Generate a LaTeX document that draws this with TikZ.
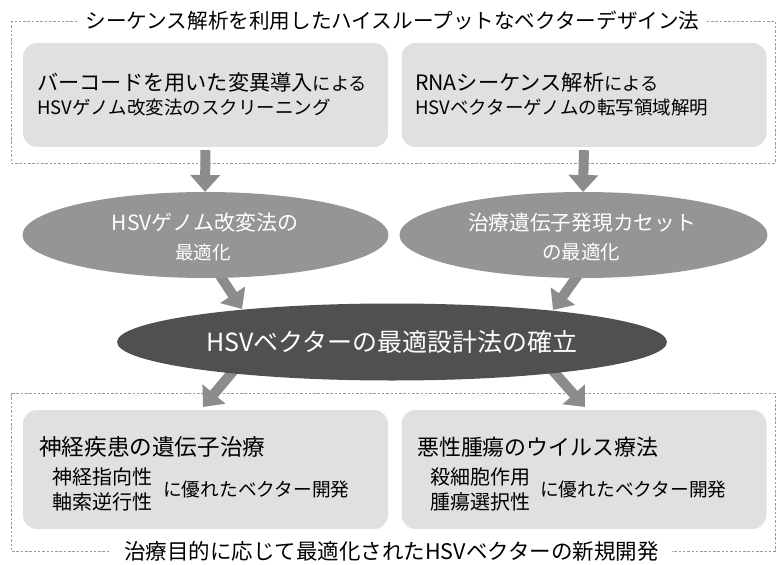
\documentclass[tikz,border=0pt]{standalone}
\usepackage{fontspec}
\setmainfont{Noto Sans CJK JP}
\usetikzlibrary{arrows.meta,shapes.geometric}
\definecolor{boxgray}{HTML}{E0E0E0}
\definecolor{ellgray}{HTML}{959595}
\definecolor{darkell}{HTML}{505050}
\definecolor{arrowgray}{HTML}{8C8C8C}
\definecolor{framegray}{HTML}{9A9A9A}
\newcommand{\fs}[1]{\fontsize{#1}{#1}\selectfont}
\begin{document}
\begin{tikzpicture}[x=1pt,y=-1pt,
  frame/.style={draw=framegray,line width=0.8pt,dash pattern=on 2.5pt off 1.8pt},
  boxstyle/.style={rectangle,rounded corners=14pt,fill=boxgray,inner sep=0pt},
  ellstyle/.style={ellipse,inner sep=0pt,text=white,align=center},
  bigarrow/.style={draw=arrowgray,line width=10pt,-{Triangle[width=29pt,length=17pt]}},
  txt/.style={anchor=west,inner sep=0pt},
  wtxt/.style={inner sep=0pt,text=white},
  ttl/.style={fill=white,inner xsep=7pt,inner ysep=0pt}]
\useasboundingbox (0,0) rectangle (783,564);
% frames
\draw[frame] (11,21) rectangle (775,163);
\draw[frame] (11,393) rectangle (775,551);
\node[ttl] (toptitle) at (392.5,21) {\fs{20.6}シーケンス解析を利用したハイスループットなベクターデザイン法};
\node[ttl,inner xsep=13pt] (bottitle) at (391.5,551) {\fs{21.5}治療目的に応じて最適化されたHSVベクターの新規開発};
% top boxes
\node[boxstyle,minimum width=365pt,minimum height=104pt] (b1) at (205.5,95) {};
\node[boxstyle,minimum width=365pt,minimum height=104pt] (b2) at (584,95) {};
\node[txt] (b1a) at (37,82) {{\fs{21.2}バーコードを用いた変異導入}{\fs{18.3}による}};
\node[txt] (b1b) at (37,108) {\fs{18.5}HSVゲノム改変法のスクリーニング};
\node[txt] (b2a) at (415,82) {{\fs{21.2}RNAシーケンス解析}{\fs{18.3}による}};
\node[txt] (b2b) at (415,108) {\fs{18.5}HSVベクターゲノムの転写領域解明};
% bottom boxes
\node[boxstyle,minimum width=365pt,minimum height=119pt] (b3) at (205.5,469.5) {};
\node[boxstyle,minimum width=365pt,minimum height=119pt] (b4) at (584,469.5) {};
\node[txt] (b3a) at (39,447) {\fs{22.6}神経疾患の遺伝子治療};
\node[txt] (b3b) at (52,477) {\fs{20}神経指向性};
\node[txt] (b3c) at (52,502) {\fs{20}軸索逆行性};
\node[txt] (b3d) at (163,489) {\fs{18.7}に優れたベクター開発};
\node[txt] (b4a) at (417,447) {\fs{21.9}悪性腫瘍のウイルス療法};
\node[txt] (b4b) at (430,477) {\fs{20}殺細胞作用};
\node[txt] (b4c) at (430,502) {\fs{20}腫瘍選択性};
\node[txt] (b4d) at (540,489) {\fs{18.7}に優れたベクター開発};
% positions
\coordinate (e1c) at (205.5,235);
\coordinate (e2c) at (583.5,235);
\coordinate (cc) at (392,342);
\coordinate (d1s) at (215,268);
\coordinate (d1e) at (242,309);
\coordinate (d2s) at (583,268);
\coordinate (d2e) at (553,310);
\coordinate (d3s) at (240,363);
\coordinate (d3e) at (203,407);
\coordinate (d4s) at (546,363);
\coordinate (d4e) at (585,407);
% arrows
\draw[bigarrow,shorten <=3pt] (b1.south) -- (205,192);
\draw[bigarrow,shorten <=3pt] (b2.south) -- (583,192);
\draw[bigarrow] (d1s) -- (d1e);
\draw[bigarrow] (d2s) -- (d2e);
\draw[bigarrow] (d3s) -- (d3e);
\draw[bigarrow] (d4s) -- (d4e);
% ellipses
\node[ellstyle,fill=ellgray,minimum width=366pt,minimum height=86pt] (e1) at (e1c) {};
\node[ellstyle,fill=ellgray,minimum width=368pt,minimum height=86pt] (e2) at (e2c) {};
\node[wtxt] (e1a) at (205,223) {\fs{21}HSVゲノム改変法の};
\node[wtxt] (e1b) at (203,252) {\fs{18.5}最適化};
\node[wtxt] (e2a) at (582,223) {\fs{20.7}治療遺伝子発現カセット};
\node[wtxt] (e2b) at (581,252) {\fs{19.5}の最適化};
\node[ellstyle,fill=darkell,minimum width=550pt,minimum height=77pt,
  font={\fontsize{25}{30}\selectfont}] (c) at (cc) {HSVベクターの最適設計法の確立};
\end{tikzpicture}
\end{document}
